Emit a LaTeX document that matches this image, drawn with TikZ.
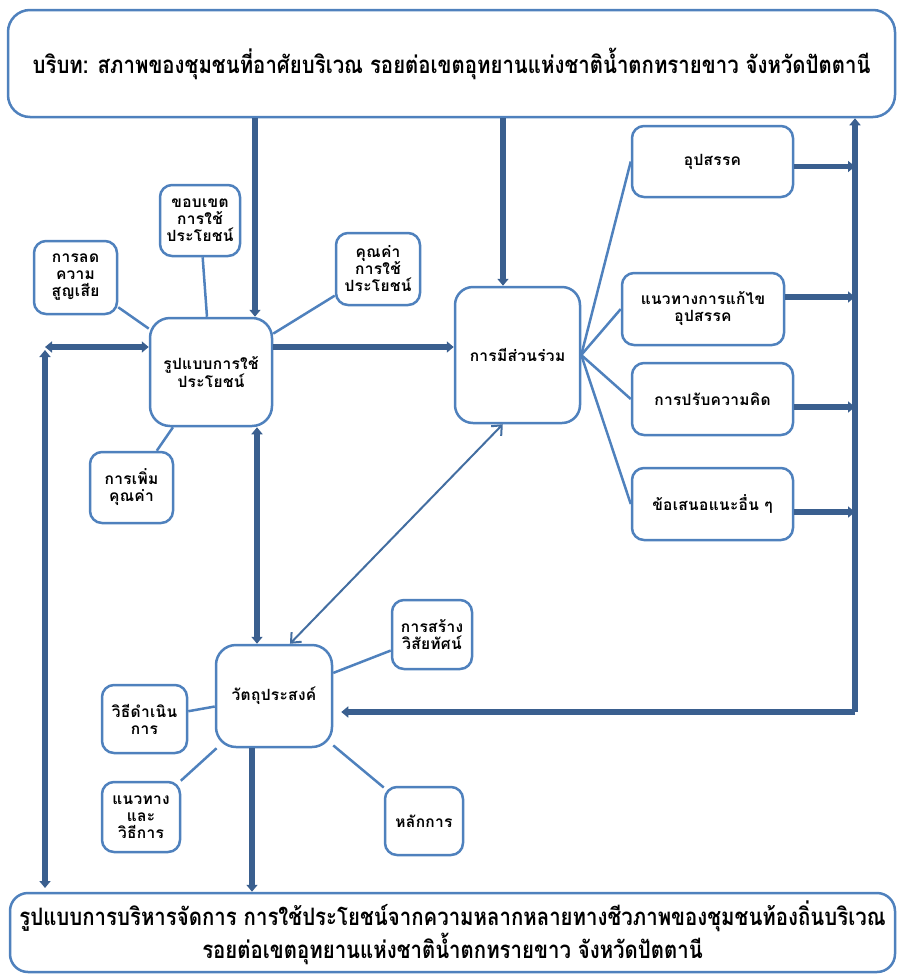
\documentclass[tikz,border=0pt]{standalone}
\usepackage{fontspec}
\newfontfamily\thai[Script=Thai,FakeStretch=0.85]{Loma}
\newfontfamily\thaibox[Script=Thai,LetterSpace=2]{Loma}
\usepackage{tikz}
\usetikzlibrary{arrows.meta}

\definecolor{boxblue}{HTML}{4F81BD}
\definecolor{busblue}{HTML}{3A5F8F}

\begin{document}
\begin{tikzpicture}[x=1pt,y=-1pt,
  box/.style={draw=boxblue,line width=2.5pt,rounded corners=12pt,fill=white,align=center,inner sep=0pt,font=\thaibox\bfseries\fontsize{15.5}{17}\selectfont},
  spoke/.style={draw=boxblue,line width=2.5pt},
  bus/.style={draw=busblue,line width=5.5pt,>={Triangle[length=7pt,width=11pt]}},
  diag/.style={draw=boxblue!85!black,line width=2pt,>={Straight Barb[length=8pt,width=14pt]}}]
\useasboundingbox (0,0) rectangle (905,978);

% context and result
\draw (451.5,63.5) node[box,minimum width=887,minimum height=107,rounded corners=22pt,font=\thai\bfseries\fontsize{24}{26}\selectfont] (C) {บริบท: สภาพของชุมชนที่อาศัยบริเวณ รอยต่อเขตอุทยานแห่งชาติน้ำตกทรายขาว จังหวัดปัตตานี};
\draw (452.5,932.5) node[box,minimum width=885,minimum height=79,rounded corners=18pt,font=\thai\bfseries\fontsize{24}{24}\selectfont] (M) {รูปแบบการบริหารจัดการ การใช้ประโยชน์จากความหลากหลายทางชีวภาพของชุมชนท้องถิ่นบริเวณ\\รอยต่อเขตอุทยานแห่งชาติน้ำตกทรายขาว จังหวัดปัตตานี};

% use pattern
\draw (211,372) node[box,minimum width=122,minimum height=108,rounded corners=20pt] (U) {รูปแบบการใช้\\ประโยชน์};
\draw (200,220.5) node[box,minimum width=80,minimum height=71] (J1) {ขอบเขต\\การใช้\\ประโยชน์};
\draw (75.5,277.5) node[box,minimum width=83,minimum height=73] (J2) {การลด\\ความ\\สูญเสีย};
\draw (378,269) node[box,minimum width=84,minimum height=72] (J3) {คุณค่า\\การใช้\\ประโยชน์};
\draw (131.5,487.5) node[box,minimum width=83,minimum height=71] (J4) {การเพิ่ม\\คุณค่า};
\foreach \j in {J1,J2,J3,J4} \draw[spoke] (U)--(\j);

% participation
\draw (517.5,355) node[box,minimum width=125,minimum height=136,rounded corners=18pt] (P) {การมีส่วนร่วม};
\draw (712.5,161.5) node[box,minimum width=161,minimum height=71] (K1) {อุปสรรค};
\draw (703,309) node[box,minimum width=162,minimum height=72] (K2) {แนวทางการแก้ไข\\อุปสรรค};
\draw (712.5,399) node[box,minimum width=161,minimum height=72] (K3) {การปรับความคิด};
\draw (712.5,504) node[box,minimum width=161,minimum height=72] (K4) {ข้อเสนอแนะอื่น ๆ};
\foreach \k in {K1,K2,K3,K4} \draw[spoke] (P.east)--(\k.west);

% objectives
\draw (274,696) node[box,minimum width=116,minimum height=102,rounded corners=20pt] (O) {วัตถุประสงค์};
\draw (432,634.5) node[box,minimum width=80,minimum height=69] (L1) {การสร้าง\\วิสัยทัศน์};
\draw (144.5,719) node[box,minimum width=85,minimum height=68] (L2) {วิธีดำเนิน\\การ};
\draw (141,817) node[box,minimum width=78,minimum height=70] (L3) {แนวทาง\\และ\\วิธีการ};
\draw (424,821) node[box,minimum width=78,minimum height=68] (L4) {หลักการ};
\foreach \l in {L1,L2,L3,L4} \draw[spoke] (O)--(\l);

% main flows
\coordinate (a1) at (255,0);
\coordinate (a2) at (503,0);
\coordinate (a3) at (257,0);
\coordinate (a4) at (252,0);
\coordinate (yu) at (0,347);
\coordinate (lt) at (45,347);
\coordinate (lb) at (45,888);
\coordinate (rb) at (855,712);
\draw[bus,->] (C.south -| a1)--(U.north -| a1);
\draw[bus,->] (C.south -| a2)--(P.north -| a2);
\draw[bus,->] (U.east |- yu)--(P.west |- yu);
\draw[bus,<->] (U.west |- yu)--(lt);
\draw[bus,<->] ([yshift=-3pt]lt)--(lb);
\draw[bus,<->] (U.south -| a3)--(O.north -| a3);
\draw[bus,->] (O.south -| a4)--(M.north -| a4);
\foreach \k/\d in {K1/-5,K2/12,K3/-8,K4/-8} \draw[bus,->] ([yshift=\d pt]\k.east)--([yshift=\d pt]\k.east -| rb);
\draw[bus,->] (rb)--(rb |- C.south);
\draw[bus,->,shorten >=8pt] (rb)--(O.east |- rb);
\draw[diag,<->] (O.73)--(P.258);
\end{tikzpicture}
\end{document}
